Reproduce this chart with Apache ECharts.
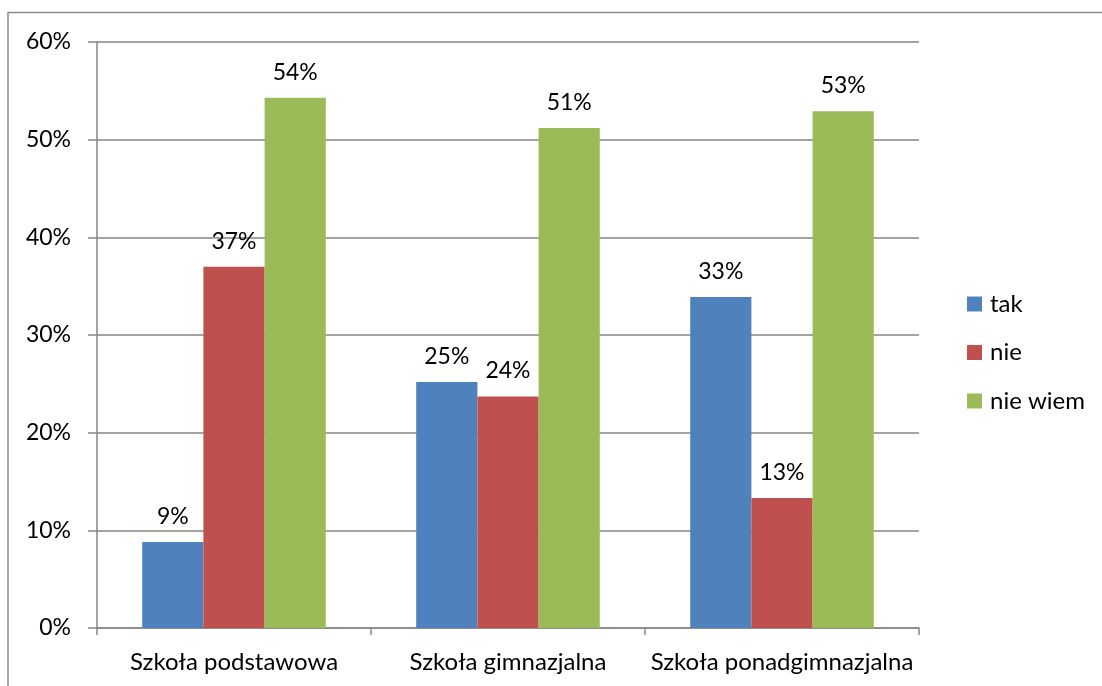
<!DOCTYPE html>
<html>
<head>
<meta charset="utf-8">
<script src="https://cdn.jsdelivr.net/npm/echarts@6/dist/echarts.min.js"></script>
<style>
	html, body { margin: 0; padding: 0; background: #fff; }
	#chart { width: 1102px; height: 686px; }
</style>
</head>
<body>
<div id="chart"></div>
<script>
	// dane (procenty)
	var categories = ['Szkoła podstawowa', 'Szkoła gimnazjalna', 'Szkoła ponadgimnazjalna'];
	var seriesNames = ['tak', 'nie', 'nie wiem'];
	var tak = [8.8, 25.2, 33.9];
	var nie = [37.0, 23.7, 13.3];
	var nieWiem = [54.3, 51.2, 52.9];
	// etykiety tak jak wydrukowane na wykresie
	var takLabels = [9, 25, 33];
	var nieLabels = [37, 24, 13];
	var nieWiemLabels = [54, 51, 53];
	var yTicks = [0, 10, 20, 30, 40, 50, 60];

	var colors = ['#4F81BD', '#C0504D', '#9BBB59'];
	var font = 'Lato, "Open Sans", sans-serif';

	function makeSeries(name, data, labels, color) {
		return {
			name: name,
			type: 'bar',
			barGap: '0%',
			barCategoryGap: '33%',
			data: data,
			itemStyle: { color: color },
			label: {
				show: true,
				position: 'top',
				distance: 14,
				color: '#000',
				fontFamily: font,
				fontSize: 23,
				formatter: function (p) { return labels[p.dataIndex] + '%'; }
			}
		};
	}

	var chart = echarts.init(document.getElementById('chart'));
	chart.setOption({
		animation: false,
		textStyle: { fontFamily: font },
		graphic: [{
			type: 'rect',
			shape: { x: 8, y: 12.5, width: 1200, height: 800 },
			style: { fill: 'none', stroke: '#8a8a8a', lineWidth: 1.5 },
			silent: true
		}],
		grid: { left: 97, right: 183, top: 42, bottom: 58 },
		legend: {
			orient: 'vertical',
			left: 962,
			top: 287,
			itemWidth: 15,
			itemHeight: 15,
			itemGap: 24.5,
			icon: 'rect',
			data: seriesNames,
			textStyle: { fontSize: 24, color: '#000', fontFamily: font, padding: [0, 0, 0, 3] }
		},
		xAxis: {
			type: 'category',
			data: categories,
			axisLine: { lineStyle: { color: '#868686', width: 1.5 } },
			axisTick: { show: true, length: 7, lineStyle: { color: '#868686', width: 1.5 } },
			axisLabel: { color: '#000', fontSize: 24, fontFamily: font, margin: 22, interval: 0 }
		},
		yAxis: {
			type: 'value',
			min: yTicks[0],
			max: yTicks[yTicks.length - 1],
			interval: 10,
			axisLine: { show: true, lineStyle: { color: '#868686', width: 1.5 } },
			axisTick: { show: true, length: 9, lineStyle: { color: '#868686', width: 1.5 } },
			splitLine: { lineStyle: { color: '#868686', width: 1.5 } },
			axisLabel: {
				color: '#000', fontSize: 23, fontFamily: font, margin: 26,
				formatter: '{value}%'
			}
		},
		series: [
			makeSeries(seriesNames[0], tak, takLabels, colors[0]),
			makeSeries(seriesNames[1], nie, nieLabels, colors[1]),
			makeSeries(seriesNames[2], nieWiem, nieWiemLabels, colors[2])
		]
	});
</script>
</body>
</html>
